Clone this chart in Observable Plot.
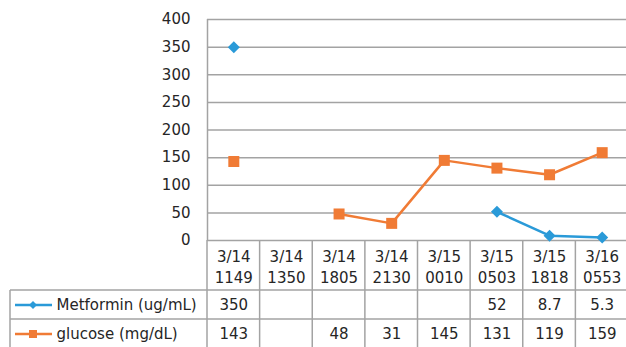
<!DOCTYPE html>
<html><head><meta charset="utf-8">
<script src="https://cdn.jsdelivr.net/npm/d3@7"></script>
<script src="https://cdn.jsdelivr.net/npm/@observablehq/plot@0.6"></script>
<style>body{margin:0;background:#fff}</style>
</head><body><div id="chart"></div>
<script>
const dates = ["3/14","3/14","3/14","3/14","3/15","3/15","3/15","3/16"];
const times = ["1149","1350","1805","2130","0010","0503","1818","0553"];
const metformin = [350, null, null, null, null, 52, 8.7, 5.3];
const glucose = [143, null, 48, 31, 145, 131, 119, 159];
const seriesNames = ["Metformin (ug/mL)", "glucose (mg/dL)"];
const yTicks = [0, 50, 100, 150, 200, 250, 300, 350, 400];

const BLUE = "#2a9ad8", ORANGE = "#f07b35", GRID = "#a3a3a3", TEXT = "#262626";
const FONT = "DejaVu Sans";

const rows = dates.map((d, i) => ({pos: i + 0.5, date: d, time: times[i], met: metformin[i], glu: glucose[i]}));

const diamond = {draw(ctx, size) { const r = Math.sqrt(size / Math.PI); ctx.moveTo(0, -r); ctx.lineTo(r, 0); ctx.lineTo(0, r); ctx.lineTo(-r, 0); ctx.closePath(); }};
const square = {draw(ctx, size) { const r = Math.sqrt(size / Math.PI); ctx.rect(-r, -r, 2 * r, 2 * r); }};

function tableLines(index, scales, values, dims) {
  const x = scales.x;
  const top = dims.height - dims.marginBottom;
  const H = dims.height;
  const left = 10;
  const g = d3.create("svg:g");
  const lines = g.append("g").attr("stroke", GRID).attr("stroke-width", 1.5).attr("fill", "none");
  for (const b of d3.range(0, dates.length + 1)) {
    lines.append("line").attr("x1", x(b)).attr("x2", x(b)).attr("y1", top).attr("y2", H);
  }
  for (const dy of [50, 79]) {
    lines.append("line").attr("x1", left).attr("x2", dims.width).attr("y1", top + dy).attr("y2", top + dy);
  }
  lines.append("line").attr("x1", left).attr("x2", left).attr("y1", top + 50).attr("y2", H);
  // legend swatches
  const sw = [{c: BLUE, s: diamond, r: 4, dy: 65}, {c: ORANGE, s: square, r: 4, dy: 94}];
  for (const k of sw) {
    g.append("line").attr("x1", 15).attr("x2", 52).attr("y1", top + k.dy).attr("y2", top + k.dy)
      .attr("stroke", k.c).attr("stroke-width", 2.5);
    g.append("path").attr("transform", `translate(33,${top + k.dy})`)
      .attr("d", d3.symbol(k.s, Math.PI * k.r * k.r)()).attr("fill", k.c);
  }
  return g.node();
}

const chart = Plot.plot({
  width: 626,
  height: 347,
  marginLeft: 207,
  marginRight: 0,
  marginTop: 19,
  marginBottom: 107,
  style: {fontFamily: FONT, fontSize: "15px", color: TEXT, background: "white", overflow: "visible"},
  x: {type: "linear", domain: [0, dates.length], range: [207, 628], axis: null},
  y: {domain: [0, 400], range: [240, 19], ticks: yTicks, tickSize: 0, tickPadding: 17, tickFormat: d => String(d), label: null},
  marks: [
    Plot.ruleY(yTicks, {stroke: GRID, strokeWidth: 1.5}),
    Plot.ruleX([0], {stroke: GRID, strokeWidth: 1.5}),
    tableLines,
    Plot.line(rows, {x: "pos", y: "glu", stroke: ORANGE, strokeWidth: 2.5}),
    Plot.line(rows, {x: "pos", y: "met", stroke: BLUE, strokeWidth: 2.5}),
    Plot.dot(rows.filter(d => d.glu != null), {x: "pos", y: "glu", symbol: square, r: 5.5, fill: ORANGE}),
    Plot.dot(rows.filter(d => d.met != null), {x: "pos", y: "met", symbol: diamond, r: 6, fill: BLUE}),
    Plot.text(rows, {x: "pos", text: d => d.date + "\n" + d.time, frameAnchor: "bottom", lineAnchor: "middle", dy: 25, lineHeight: 1.45, fill: TEXT}),
    Plot.text(rows.filter(d => d.met != null), {x: "pos", text: d => String(d.met), frameAnchor: "bottom", lineAnchor: "middle", dy: 65, fill: TEXT}),
    Plot.text(rows.filter(d => d.glu != null), {x: "pos", text: d => String(d.glu), frameAnchor: "bottom", lineAnchor: "middle", dy: 94, fill: TEXT}),
    Plot.text([seriesNames[0]], {text: d => d, frameAnchor: "bottom-left", lineAnchor: "middle", textAnchor: "start", dx: -151, dy: 65, fill: TEXT}),
    Plot.text([seriesNames[1]], {text: d => d, frameAnchor: "bottom-left", lineAnchor: "middle", textAnchor: "start", dx: -151, dy: 94, fill: TEXT})
  ]
});
document.getElementById("chart").append(chart);
</script>
</body></html>
